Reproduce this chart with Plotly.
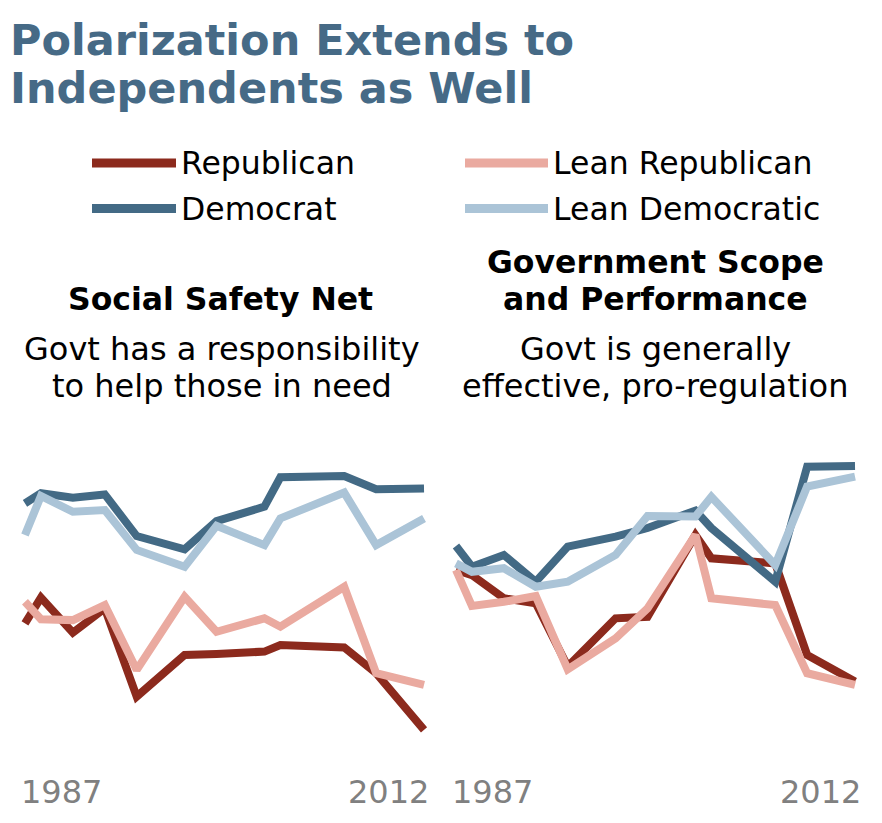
import plotly.graph_objects as go

# the page body has an 8px margin, so the figure is made 8px smaller
# and every pixel position below is given in window coordinates
PAD = 8
W, H = 882 - PAD, 823 - PAD

years = [1987, 1988, 1990, 1992, 1994, 1997, 1999, 2002, 2003, 2007, 2009, 2012]

# Social Safety Net (index)
safety_rep = [42.2, 50.8, 39.1, 47.2, 17.8, 31.7, 32.0, 32.8, 35.0, 34.2, 25.6, 6.7]
safety_dem = [82.2, 85.6, 84.1, 85.2, 71.3, 66.9, 76.3, 81.1, 90.9, 91.3, 86.9, 87.2]
safety_lean_rep = [49.4, 43.6, 43.3, 48.3, 26.7, 51.1, 39.4, 43.9, 41.1, 54.4, 25.6, 21.7]
safety_lean_dem = [71.7, 84.7, 79.4, 80.0, 66.7, 61.1, 74.7, 68.3, 77.2, 85.8, 68.3, 77.2]

# Government Scope and Performance
scope_rep = [60.0, 58.3, 50.6, 48.9, 27.8, 43.9, 44.4, 71.7, 63.9, 62.2, 31.7, 22.8]
scope_dem = [68.0, 61.1, 65.0, 56.1, 67.8, 71.1, 74.0, 79.8, 74.0, 56.1, 94.4, 94.7]
scope_lean_rep = [60.0, 48.0, 49.4, 51.3, 26.9, 37.2, 47.2, 71.7, 50.6, 48.3, 25.6, 21.7]
scope_lean_dem = [62.2, 59.4, 60.6, 54.4, 56.1, 65.0, 78.0, 77.8, 84.4, 61.7, 87.8, 91.1]

series_names = ["Republican", "Democrat", "Lean Republican", "Lean Democratic"]
colors = {
    "Republican": "#8C2A1D",
    "Democrat": "#436A85",
    "Lean Republican": "#EAAAA0",
    "Lean Democratic": "#ABC4D7",
}

panels = [
    ("x", "y", [safety_rep, safety_dem, safety_lean_rep, safety_lean_dem]),
    ("x2", "y2", [scope_rep, scope_dem, scope_lean_rep, scope_lean_dem]),
]

FONT = "DejaVu Sans"


def py(y):
    # window pixel row -> paper coordinate
    return 1 - (y - PAD) / H


def px_(x):
    return (x - PAD) / W


fig = go.Figure()

for xa, ya, data in panels:
    for name, vals in zip(series_names, data):
        fig.add_trace(go.Scatter(
            x=years, y=vals, xaxis=xa, yaxis=ya, mode="lines",
            line=dict(color=colors[name], width=8),
            name=name, showlegend=False, hoverinfo="skip",
        ))

ydom = [py(750), py(450)]
fig.update_layout(
    width=W, height=H,
    margin=dict(l=0, r=0, t=0, b=0),
    paper_bgcolor="white", plot_bgcolor="white",
    xaxis=dict(domain=[px_(17), px_(432)], range=[1986.5, 2012.5], visible=False),
    yaxis=dict(domain=ydom, range=[0, 100], visible=False),
    xaxis2=dict(domain=[px_(448), px_(863)], range=[1986.5, 2012.5], visible=False),
    yaxis2=dict(domain=ydom, range=[0, 100], visible=False, anchor="x2"),
)

ann = []


def text(x, y, s, size, color="black", bold=False, anchor="center"):
    if bold:
        s = "<b>" + s + "</b>"
    ann.append(dict(
        x=px_(x), y=py(y), xref="paper", yref="paper", text=s, showarrow=False,
        xanchor=anchor, yanchor="middle",
        font=dict(family=FONT, size=size, color=color),
    ))


# title (starts right at the figure's left edge)
text(PAD, 40, "Polarization Extends to", 43, "#466A86", True, "left")
text(PAD, 88, "Independents as Well", 43, "#466A86", True, "left")

# legend (swatches drawn as shapes)
legend_items = [
    ("Republican", 92, 176, 163),
    ("Democrat", 92, 176, 208.5),
    ("Lean Republican", 465, 548, 163),
    ("Lean Democratic", 465, 548, 208.5),
]
for name, x0, x1, yc in legend_items:
    fig.add_shape(type="line", xref="paper", yref="paper",
                  x0=px_(x0), x1=px_(x1), y0=py(yc), y1=py(yc),
                  line=dict(color=colors[name], width=9))
    text(x1 + 3, yc, name, 31.5, "black", False, "left")

# panel headings
text(220, 299, "Social Safety Net", 31.5, "black", True)
text(655, 262, "Government Scope", 31.5, "black", True)
text(655, 299, "and Performance", 31.5, "black", True)
text(222, 349, "Govt has a responsibility", 32)
text(222, 386, "to help those in need", 32)
text(655, 349, "Govt is generally", 32)
text(655, 386, "effective, pro-regulation", 32)

# year labels
text(19, 792, "1987", 32, "#808080", False, "left")
text(431, 792, "2012", 32, "#808080", False, "right")
text(450, 792, "1987", 32, "#808080", False, "left")
text(863, 792, "2012", 32, "#808080", False, "right")

fig.update_layout(annotations=ann)

fig.write_html("out.html")
